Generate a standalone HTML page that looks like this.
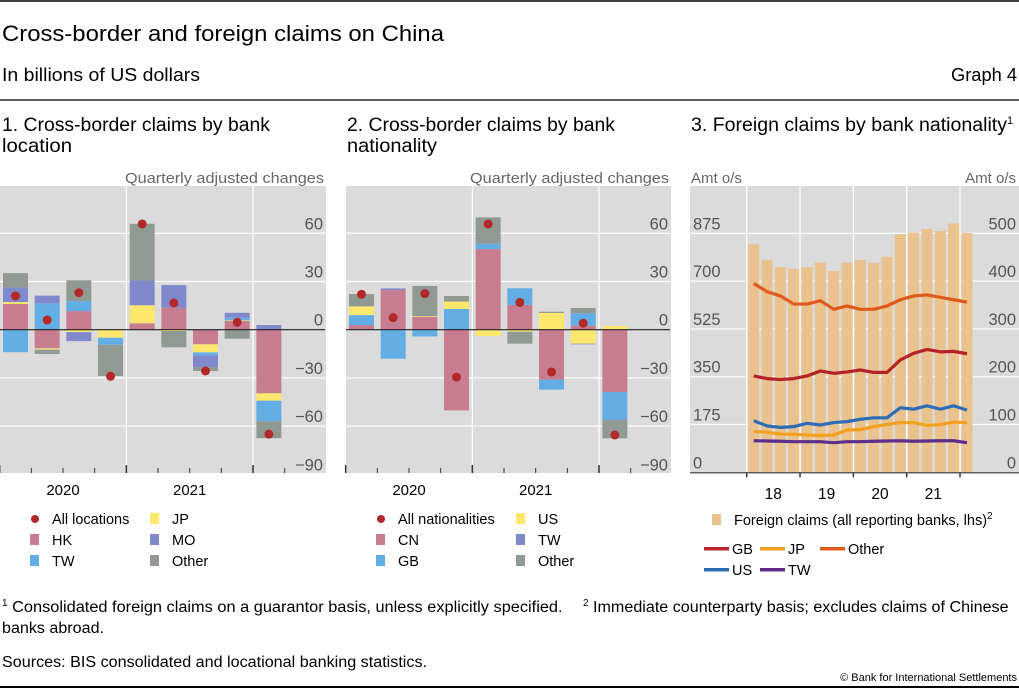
<!DOCTYPE html>
<html><head><meta charset="utf-8"><style>
html,body{margin:0;padding:0;background:#fff;}
svg{display:block;font-family:"Liberation Sans",sans-serif;}
</style></head><body>
<svg id="s" width="1019" height="688" viewBox="0 0 1019 688" xmlns="http://www.w3.org/2000/svg">
<line x1="0" y1="1" x2="1019" y2="1" stroke="#000" stroke-width="1.5"/>
<text x="2" y="41" font-size="22" fill="#000" textLength="442" lengthAdjust="spacingAndGlyphs">Cross-border and foreign claims on China</text>
<text x="2" y="81" font-size="18" fill="#000" textLength="198" lengthAdjust="spacingAndGlyphs">In billions of US dollars</text>
<text x="1017" y="81" font-size="18" text-anchor="end" fill="#000" textLength="66" lengthAdjust="spacingAndGlyphs">Graph 4</text>
<line x1="0" y1="100" x2="1019" y2="100" stroke="#000" stroke-width="1.2"/>
<text x="2" y="131" font-size="19" textLength="268" lengthAdjust="spacingAndGlyphs">1. Cross-border claims by bank</text>
<text x="2" y="152" font-size="19" textLength="70" lengthAdjust="spacingAndGlyphs">location</text>
<text x="347" y="131" font-size="19" textLength="268" lengthAdjust="spacingAndGlyphs">2. Cross-border claims by bank</text>
<text x="347" y="152" font-size="19" textLength="90" lengthAdjust="spacingAndGlyphs">nationality</text>
<text x="691" y="131" font-size="19"><tspan textLength="316" lengthAdjust="spacingAndGlyphs">3. Foreign claims by bank nationality</tspan><tspan font-size="11" dy="-7">1</tspan></text>
<text x="324" y="183" font-size="15" fill="#666" text-anchor="end" textLength="199" lengthAdjust="spacingAndGlyphs">Quarterly adjusted changes</text>
<text x="669" y="183" font-size="15" fill="#666" text-anchor="end" textLength="199" lengthAdjust="spacingAndGlyphs">Quarterly adjusted changes</text>
<text x="691" y="183" font-size="15" fill="#666">Amt o/s</text>
<text x="1016" y="183" font-size="15" fill="#666" text-anchor="end">Amt o/s</text>
<g id="p1"></g>
<g id="p2"></g>
<g id="p3"></g>
<g id="leg"></g>
<text x="2" y="612" font-size="15.5"><tspan font-size="10" dy="-6">1</tspan><tspan dy="6" textLength="555" lengthAdjust="spacingAndGlyphs"> Consolidated foreign claims on a guarantor basis, unless explicitly specified.</tspan><tspan x="583" font-size="10" dy="-6">2</tspan><tspan dy="6" textLength="420" lengthAdjust="spacingAndGlyphs"> Immediate counterparty basis; excludes claims of Chinese</tspan></text>
<text x="2" y="633" font-size="15.5" textLength="102" lengthAdjust="spacingAndGlyphs">banks abroad.</text>
<text x="2" y="667" font-size="15.5" textLength="425" lengthAdjust="spacingAndGlyphs">Sources: BIS consolidated and locational banking statistics.</text>
<text x="1017" y="681" font-size="11" text-anchor="end">© Bank for International Settlements</text>
<rect x="0" y="686" width="1019" height="2" fill="#000"/>
</svg>
<script>
const NS="http://www.w3.org/2000/svg";
// Panel 1 data (stack order from zero outward)
const p1Series=["HK","JP","TW","MO","Other"];
const p1HK=[16,-11.6,11.6,0,4,13.7,-9.1,5.4,-39.6];
const p1JP=[1.2,-0.8,-1.5,-5,11.2,-0.8,-5,0.4,-4.6];
const p1TW=[-14,16.4,6.2,-4.4,0,0,-2,1.6,-12.7];
const p1MO=[9,4.8,-5.6,0,15.4,14.1,-7.3,3.1,2.9];
const p1Other=[9,-2.7,12.9,-19.5,35.3,-10.2,-2.3,-5.6,-10.6];
const p1Total=[21,6,23,-29,65.8,16.6,-25.7,4.6,-65];
// Panel 2 data
const p2CN=[2.9,24.7,8.1,-50.2,50.2,15.4,-31.1,2.5,-38.8];
const p2GB=[6.2,-18,-4.2,12.9,3.3,10.4,-6.2,7.7,-17];
const p2US=[5.4,0,0.4,4.6,-3.9,-1.2,10.4,-8.7,2.3];
const p2TW=[0,1,0,0,0,0,0,-0.4,-0.6];
const p2Other=[7.7,0,18.7,3.5,16.4,-7.5,0.8,3.3,-11.2];
const p2Total=[22,7.5,22.5,-29.5,65.8,17,-26.3,4,-65.5];
const barTicks=[60,30,0,-30,-60,-90];
const yearLabels=["2020","2021"];
// Panel 3 data
const p3Claims=[835,778,751,745,751,768,737,768,778,767,789,872,877,891,884,911,876];
const p3GB=[201.5,196,194,196,201.5,212,207,210,214,209,209,235,249,257,252,253,248];
const p3US=[108,97,94,95.5,102.5,99,104,106,111,114,114,135,132,139,132,139,130];
const p3JP=[85,84,80,79.5,78,77,78,88.5,89,95.5,100,104,104,98,100,105,104];
const p3Other=[395,378,369,352,352,359,341,348,341,341,348,361,369,371,366,361,356];
const p3TW=[66,65.5,65,64,64,64,62,64,64,65,65.5,66,65,65.5,66,66,62];
const leftTicks=[0,175,350,525,700,875];
const rightTicks=[0,100,200,300,400,500];
const p3Years=["18","19","20","21"];

const C={HK:"#c77d8f",CN:"#c77d8f",JP:"#fde76c",US:"#fde76c",TW:"#62aee4",GB:"#62aee4",MO:"#8189cd",TW2:"#8189cd",Other:"#919a92",dot:"#b3282a"};
function el(t,a,p){const e=document.createElementNS(NS,t);for(const k in a)e.setAttribute(k,a[k]);p.appendChild(e);return e;}

function barPanel(g,x0,x1,series,cols,total,names){
  const zeroY=329.7, k=1.607;
  const y=v=>zeroY-v*k;
  const top=186,bot=473;
  const bg=el('rect',{x:x0,y:top,width:x1-x0,height:bot-top,fill:"#dbdbdb"},g);
  
  const step=31.67, first=x0+15.5;
  const bx=i=>first+step*i;
  barTicks.forEach(t=>{ if(t!==0){const l=el('line',{x1:x0,x2:x1,y1:y(t),y2:y(t),stroke:"#fff","stroke-width":1.2},g);
    }
    const tx=el('text',{x:x1-3,y:y(t)-4,"font-size":16.5,fill:"#555","text-anchor":"end"},g);tx.textContent=t===0?"0":(t<0?"−"+(-t):t);
    });
  [3.5,7.5].forEach(p=>{const l=el('line',{x1:first+step*p,x2:first+step*p,y1:top,y2:bot,stroke:"#fff","stroke-width":1.2},g);
    });
  const n=total.length;
  for(let i=0;i<n;i++){let pos=0,neg=0;
    series.forEach((s,j)=>{const v=s[i];if(!v)return;let a,b;
      if(v>0){a=pos;b=pos+v;pos=b;}else{a=neg;b=neg+v;neg=b;}
      const r=el('rect',{x:bx(i)-12.5,width:25,y:Math.min(y(a),y(b)),height:Math.abs(y(a)-y(b)),fill:cols[j]},g);
      });}
  const z=el('line',{x1:x0,x2:x1-1,y1:zeroY,y2:zeroY,stroke:"#222","stroke-width":1.2},g);
  
  for(let i=0;i<n;i++){const d=el('circle',{cx:bx(i),cy:y(total[i]),r:4.5,fill:C.dot},g);
    }
  for(let i=0;i<=n;i++){const xx=first+step*(i-0.5);const maj=(i===0||i===4||i===8);
    const t=el('line',{x1:xx,x2:xx,y1:maj?465:468,y2:473,stroke:"#333","stroke-width":maj?1.5:1},g);
    }
  yearLabels.forEach((yl,j)=>{const t=el('text',{x:bx(1.5+4*j),y:495,"font-size":15,"text-anchor":"middle"},g);t.textContent=yl;
    });
}
barPanel(document.getElementById('p1'),0,326,[p1HK,p1JP,p1TW,p1MO,p1Other],[C.HK,C.JP,C.TW,C.MO,C.Other],p1Total,["HK","JP","TW","MO","Other"]);
barPanel(document.getElementById('p2'),346,671,[p2CN,p2GB,p2US,p2TW,p2Other],[C.CN,C.GB,C.US,C.TW2,C.Other],p2Total,["CN","GB","US","TW","Other"]);

(function(){const g=document.getElementById('p3');
  const x0=690,x1=1019,top=186,base=472.3;
  const yl=v=>base-v*0.2731, yr=v=>base-v*0.478;
  const bg=el('rect',{x:x0,y:top,width:x1-x0,height:base-top,fill:"#dbdbdb"},g);
  
  leftTicks.forEach((t,i)=>{if(t){const l=el('line',{x1:x0,x2:x1,y1:yl(t),y2:yl(t),stroke:"#fff","stroke-width":1.2},g);
    }
    const a=el('text',{x:693,y:yl(t)-4,"font-size":16.5,fill:"#555"},g);a.textContent=t;
    
    const b=el('text',{x:1016,y:yr(rightTicks[i])-4,"font-size":16.5,fill:"#555","text-anchor":"end"},g);b.textContent=rightTicks[i];
    });
  const step=13.33, c0=753.7, cx=i=>c0+step*i;
  [0,1,2,3,4].forEach(j=>{const xx=746.7+53.33*j;const l=el('line',{x1:xx,x2:xx,y1:top,y2:base,stroke:"#fff","stroke-width":1.2},g);
    });
  p3Claims.forEach((v,i)=>{const r=el('rect',{x:cx(i)-5.5,width:11,y:yl(v),height:base-yl(v),fill:"#e9c28e"},g);
    });
  const lines=[[p3Other,"#e05a1b","other"],[p3GB,"#b42326","gb"],[p3US,"#2e6db5","us"],[p3JP,"#f2a11f","jp"],[p3TW,"#5e2d8a","tw"]];
  lines.forEach(([d,c,n])=>{const p=el('polyline',{points:d.map((v,i)=>cx(i)+","+yr(v)).join(" "),fill:"none",stroke:c,"stroke-width":3.2,"stroke-linejoin":"round"},g);
    });
  const ax=el('line',{x1:x0,x2:x1,y1:base+0.5,y2:base+0.5,stroke:"#333","stroke-width":1.2},g);
  
  [0,1,2,3,4].forEach(j=>{const xx=746.7+53.33*j;const t=el('line',{x1:xx,x2:xx,y1:base,y2:base+5,stroke:"#333","stroke-width":1.5},g);
    });
  p3Years.forEach((y,j)=>{const t=el('text',{x:773.3+53.33*j,y:499,"font-size":15.5,"text-anchor":"middle"},g);t.textContent=y;
    });
})();

(function(){const g=document.getElementById('leg');
  function item(x,y,kind,col,label,name){
    let m;
    if(kind==='dot')m=el('circle',{cx:x+5,cy:y-5,r:4,fill:col},g);
    else if(kind==='sq')m=el('rect',{x:x,y:y-11,width:9,height:11,fill:col},g);
    else m=el('rect',{x:x-14,y:y-7,width:25,height:3.5,fill:col},g);
    
    const t=el('text',{x:x+(kind==='ln'?14:22),y:y,"font-size":14.5},g);t.innerHTML=label;
    }
  item(30,524,'dot',C.dot,'All locations','p1-all-locations');item(150,524,'sq',C.JP,'JP','p1-jp');
  item(30,545,'sq',C.HK,'HK','p1-hk');item(150,545,'sq',C.MO,'MO','p1-mo');
  item(30,566,'sq',C.TW,'TW','p1-tw');item(150,566,'sq',C.Other,'Other','p1-other');
  item(376,524,'dot',C.dot,'All nationalities','p2-all-nationalities');item(516,524,'sq',C.US,'US','p2-us');
  item(376,545,'sq',C.CN,'CN','p2-cn');item(516,545,'sq',C.TW2,'TW','p2-tw');
  item(376,566,'sq',C.GB,'GB','p2-gb');item(516,566,'sq',C.Other,'Other','p2-other');
  item(712,525,'sq',"#e9c28e",'Foreign claims (all reporting banks, lhs)<tspan font-size="10" dy="-6">2</tspan>','p3-foreign-claims');
  item(718,554,'ln',"#b42326",'GB','p3-gb');item(774,554,'ln',"#f2a11f",'JP','p3-jp');item(834,554,'ln',"#e05a1b",'Other','p3-other');
  item(718,575,'ln',"#2e6db5",'US','p3-us');item(774,575,'ln',"#5e2d8a",'TW','p3-tw');
})();
</script>
</body></html>
